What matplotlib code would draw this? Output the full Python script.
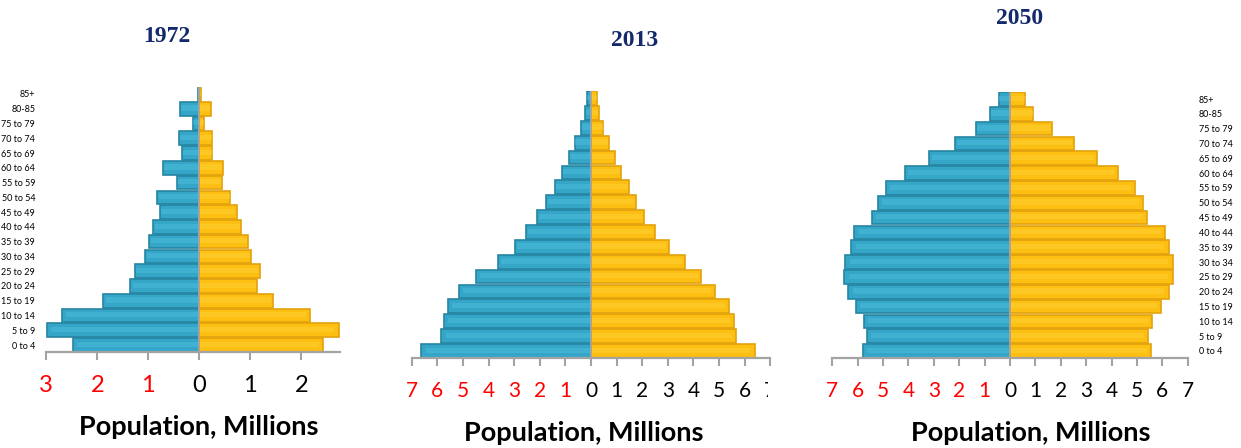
import numpy as np
import matplotlib.pyplot as plt
from matplotlib.transforms import Bbox, TransformedBbox

ages = ["0 to 4", "5 to 9", "10 to 14", "15 to 19", "20 to 24", "25 to 29",
        "30 to 34", "35 to 39", "40 to 44", "45 to 49", "50 to 54", "55 to 59",
        "60 to 64", "65 to 69", "70 to 74", "75 to 79", "80-85", "85+"]

# millions, listed from 0 to 4 up to 85+
male_1972 = [2.48, 2.99, 2.69, 1.88, 1.35, 1.27, 1.06, 0.98, 0.90, 0.78, 0.82,
             0.43, 0.71, 0.33, 0.39, 0.13, 0.37, 0.02]
female_1972 = [2.42, 2.73, 2.16, 1.45, 1.14, 1.18, 1.02, 0.96, 0.82, 0.73, 0.61,
               0.44, 0.46, 0.25, 0.25, 0.09, 0.22, 0.03]

male_2013 = [6.64, 5.85, 5.74, 5.58, 5.15, 4.49, 3.62, 2.96, 2.53, 2.10, 1.75,
             1.40, 1.13, 0.86, 0.63, 0.38, 0.22, 0.16]
female_2013 = [6.40, 5.66, 5.58, 5.38, 4.84, 4.29, 3.66, 3.04, 2.49, 2.06, 1.75,
               1.47, 1.16, 0.93, 0.69, 0.48, 0.30, 0.25]

male_2050 = [5.79, 5.64, 5.75, 6.07, 6.36, 6.55, 6.50, 6.26, 6.14, 5.43, 5.20,
             4.88, 4.12, 3.18, 2.16, 1.33, 0.78, 0.45]
female_2050 = [5.55, 5.43, 5.59, 5.95, 6.26, 6.42, 6.42, 6.26, 6.11, 5.39, 5.24,
               4.92, 4.24, 3.42, 2.51, 1.64, 0.92, 0.61]

ticks_1972 = [-3, -2, -1, 0, 1, 2]
ticks_wide = [-7, -6, -5, -4, -3, -2, -1, 0, 1, 2, 3, 4, 5, 6, 7]

W, H = 1241, 448
fig = plt.figure(figsize=(W / 100, H / 100), dpi=100)

blue, blue_edge = "#36a6c8", "#2585a2"
gold, gold_edge = "#fdbf12", "#e3a20a"
axis_grey = "#a3a3a3"
navy = "#13296b"


def px_axes(left, right, top, bottom):
    return fig.add_axes([left / W, 1 - bottom / H, (right - left) / W, (bottom - top) / H])


def pyramid(ax, male, female, xlim, ticks, fs):
    y = np.arange(len(ages))
    m = -np.asarray(male)
    f = np.asarray(female)
    ax.barh(y, m, height=0.92, color=blue, edgecolor=blue_edge, linewidth=1.2)
    ax.barh(y, f, height=0.92, color=gold, edgecolor=gold_edge, linewidth=1.2)
    # glossy highlight
    ax.barh(y + 0.05, m * 0.97, height=0.35, color="#4fc0e0", alpha=0.45, linewidth=0)
    ax.barh(y + 0.05, f * 0.97, height=0.35, color="#ffd53a", alpha=0.45, linewidth=0)
    ax.axvline(0, color=axis_grey, lw=1.3)
    ax.set_xlim(*xlim)
    ax.set_ylim(-0.5, len(ages) - 0.5)
    for s in ["top", "right", "left"]:
        ax.spines[s].set_visible(False)
    ax.spines["bottom"].set_color(axis_grey)
    ax.spines["bottom"].set_linewidth(1.6)
    ax.set_xticks(ticks)
    ax.set_xticklabels([str(abs(t)) for t in ticks], fontsize=fs, family="Lato")
    for t, lab in zip(ticks, ax.get_xticklabels()):
        lab.set_color("red" if t < 0 else "black")
    ax.tick_params(axis="x", length=6, width=1.5, color=axis_grey, pad=10)
    ax.set_facecolor("none")
    return ax


# 1972
ax1 = px_axes(46.3, 339.6, 86.6, 352.4)
pyramid(ax1, male_1972, female_1972, (-3, 2.75), ticks_1972, 17)
ax1.set_yticks(np.arange(len(ages)))
ax1.set_yticklabels(ages, fontsize=6.5, family="Lato")
ax1.tick_params(axis="y", length=0, pad=8)

# 2013
ax2 = px_axes(411.8, 770.2, 90.6, 358.4)
pyramid(ax2, male_2013, female_2013, (-7, 7), ticks_wide, 15)
ax2.set_yticks([])
# the right-most label is cut off in the original
clip = TransformedBbox(Bbox([[0, 0], [768 / W, 1]]), fig.transFigure)
last = ax2.get_xticklabels()[-1]
last.set_clip_box(clip)
last.set_clip_on(True)

# 2050
ax3 = px_axes(832.2, 1187.8, 91.6, 358.4)
pyramid(ax3, male_2050, female_2050, (-7, 7), ticks_wide, 15)
ax3.yaxis.tick_right()
ax3.set_yticks(np.arange(len(ages)))
ax3.set_yticklabels(ages, fontsize=6.5, family="Lato")
ax3.tick_params(axis="y", length=0, pad=8)

# titles
for x, y, s in [(167, 37, "1972"), (635, 41, "2013"), (1020, 19, "2050")]:
    fig.text(x / W, 1 - y / H, s, ha="center", va="center", fontsize=17,
             fontweight="bold", family="Liberation Serif", color=navy)

for x, y in [(199, 427), (584, 433), (1031, 433)]:
    fig.text(x / W, 1 - y / H, "Population, Millions", ha="center", va="center",
             fontsize=19.5, fontweight="bold", family="Lato", color="black")

fig.savefig("out.png", dpi=100)
